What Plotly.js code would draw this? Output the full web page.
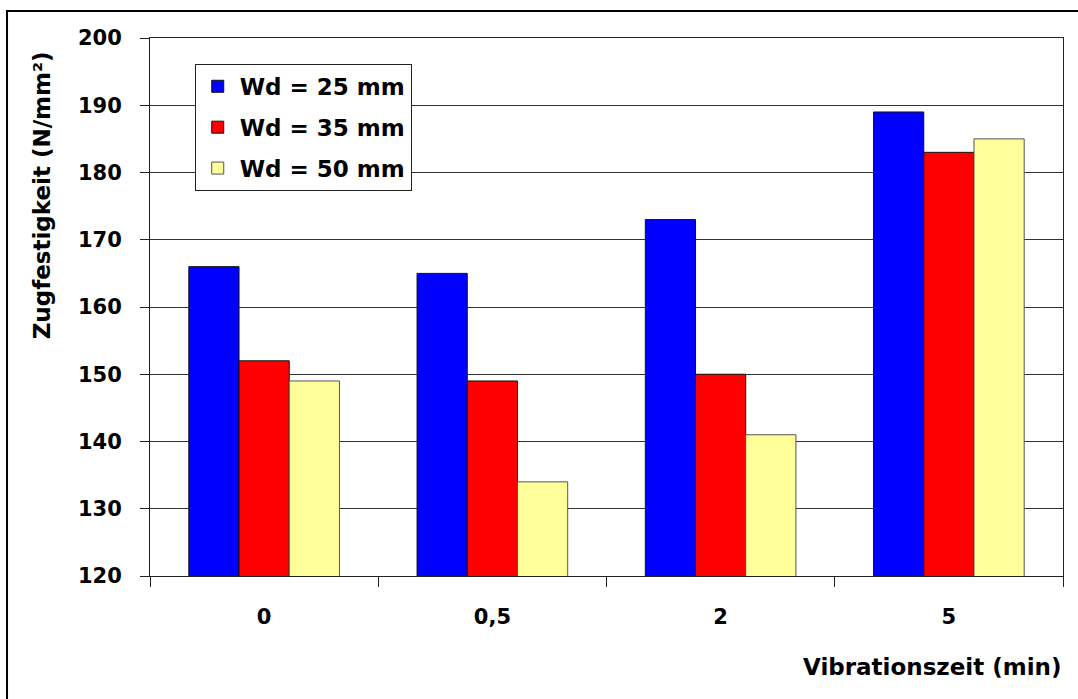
<!DOCTYPE html>
<html>
<head>
<meta charset="utf-8">
<script src="https://cdn.plot.ly/plotly-3.0.1.min.js"></script>
<style>html,body{margin:0;padding:0;background:#fff;}#chart{width:1078px;height:699px;}</style>
</head>
<body>
<div id="chart"></div>
<script>
const categories = ['0', '0,5', '2', '5'];
const seriesNames = ['Wd = 25 mm', 'Wd = 35 mm', 'Wd = 50 mm'];
const wd25 = [166, 165, 173, 189];
const wd35 = [152, 149, 150, 183];
const wd50 = [149, 134, 141, 185];
const colors = ['#0000FF', '#FF0000', '#FFFF99'];
const yTickVals = [120, 130, 140, 150, 160, 170, 180, 190, 200];

const FONT = 'DejaVu Sans, Arial, sans-serif';
const FS = 21;
const FT = 23;
const values = [wd25, wd35, wd50];
const traces = values.map((v, i) => ({
  type: 'bar',
  name: seriesNames[i],
  x: categories,
  y: v,
  legendgroup: 'g' + i,
  marker: {color: colors[i], line: {color: i === 2 ? '#555' : '#111', width: 1}},
  hoverinfo: 'x+y'
}));

const layout = {
  width: 1078, height: 699,
  margin: {l: 150, r: 15, t: 38, b: 123},
  paper_bgcolor: '#fff', plot_bgcolor: '#fff',
  barmode: 'group', bargap: 0.34, bargroupgap: 0,
  font: {family: FONT, color: '#000', size: FS, weight: 'bold'},
  showlegend: true,
  legend: {
    x: 0.049, y: 0.952, xanchor: 'left', yanchor: 'top',
    bgcolor: '#fff', bordercolor: '#222', borderwidth: 1,
    font: {family: FONT, size: FT, color: '#000', weight: 'bold'},
    tracegroupgap: 8, traceorder: 'grouped', itemwidth: 34
  },
  xaxis: {
    type: 'category', categoryorder: 'array', categoryarray: categories,
    showgrid: false, showline: true, linecolor: '#222', linewidth: 1, mirror: true,
    ticks: 'outside', tickson: 'boundaries', ticklen: 10, tickcolor: '#222',
    ticklabelstandoff: 22,
    tickfont: {family: FONT, size: FS, color: '#000', weight: 'bold'}
  },
  yaxis: {
    range: [120, 200], tickvals: yTickVals, ticktext: yTickVals.map(String),
    showgrid: true, gridcolor: '#333', gridwidth: 1,
    showline: true, linecolor: '#222', linewidth: 1, mirror: true,
    ticks: 'outside', ticklen: 9, tickcolor: '#222',
    ticklabelstandoff: 14,
    zeroline: false,
    tickfont: {family: FONT, size: FS, color: '#000', weight: 'bold'}
  },
  annotations: [
    {text: 'Vibrationszeit (min)', xref: 'paper', yref: 'paper', x: 1, y: -0.169,
     xanchor: 'right', yanchor: 'middle', showarrow: false,
     font: {family: FONT, size: FT, color: '#000', weight: 'bold'}},
    {text: 'Zugfestigkeit (N/mm²)', xref: 'paper', yref: 'paper', x: -0.118, y: 0.708,
     xanchor: 'center', yanchor: 'middle', textangle: -90, showarrow: false,
     font: {family: FONT, size: FT, color: '#000', weight: 'bold'}}
  ],
  shapes: [
    {type: 'rect', xref: 'paper', yref: 'paper', x0: -0.1566, x1: 1.03, y0: -0.25, y1: 1.0502,
     line: {color: '#000', width: 2}, fillcolor: 'rgba(0,0,0,0)', layer: 'below'}
  ]
};

Plotly.newPlot('chart', traces, layout, {displayModeBar: false, staticPlot: true});
</script>
</body>
</html>
